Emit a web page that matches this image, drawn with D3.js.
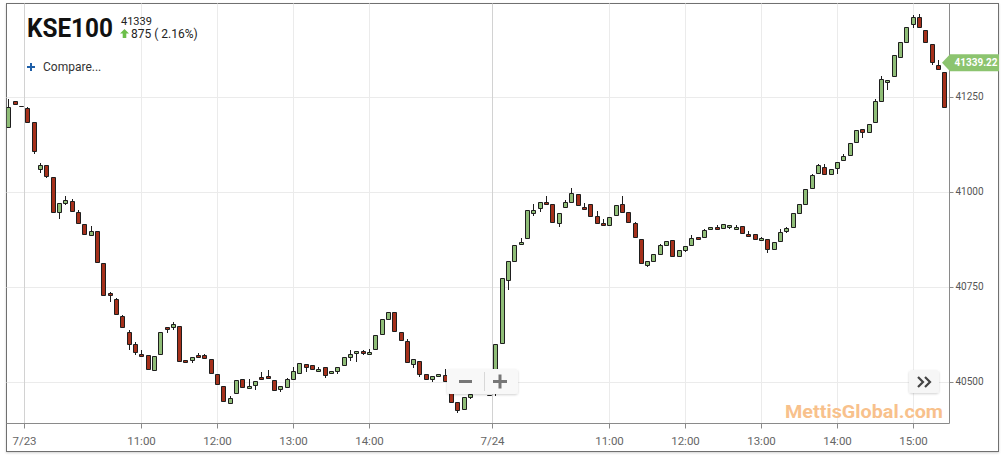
<!DOCTYPE html>
<html><head><meta charset="utf-8">
<script src="https://cdn.jsdelivr.net/npm/d3@7"></script>
<style>
html,body{margin:0;padding:0;background:#fff;}
svg{display:block;font-family:Roboto,"Liberation Sans",sans-serif;}
</style></head><body>
<svg id="c" width="1008" height="461"></svg>
<script>
// ---------- data ----------
const symbol = "KSE100";
const lastText = "41339";
const changeText = "875 ( 2.16%)";
const currentPrice = 41339.22;

const openP = [
41170,41238,41226,41220,41183,41059,41070,41038,40946,40971,
40975,40946,40914,40885,40896,40812,40734,40718,40673,40630,
40598,40573,40569,40532,40572,40643,40645,40646,40556,40558,
40569,40569,40559,40520,40488,40443,40470,40506,40483,40491,
40512,40515,40505,40480,40487,40508,40522,40546,40543,40528,
40538,40522,40528,40543,40566,40575,40581,40573,40587,40626,
40665,40683,40630,40606,40546,40554,40520,40507,40516,40518,
40470,40446,40428,40461,40472,40478,40465,40470,40601,40768,
40818,40862,40877,40945,40958,40973,40968,40917,40959,40974,
40994,40961,40967,40937,40918,40912,40938,40968,40947,40918,
40875,40808,40818,40835,40861,40872,40830,40847,40859,40880,
40880,40902,40907,40904,40906,40901,40909,40889,40888,40872,
40875,40848,40870,40896,40908,40943,40967,41009,41048,41064,
41046,41062,41083,41096,41130,41164,41156,41183,41238,41289,
41304,41354,41393,41442,41459,41425,41388,41333,41314,41220];
const closeP = [
41222,41230,41226,41183,41108,41070,41042,40947,40970,40977,
40948,40917,40888,40897,40816,40727,40727,40677,40643,40598,
40579,40567,40534,40568,40630,40638,40651,40555,40551,40564,
40564,40563,40522,40493,40448,40457,40505,40485,40488,40501,
40506,40509,40478,40489,40507,40529,40548,40540,40534,40534,
40518,40528,40538,40564,40573,40581,40575,40579,40622,40664,
40683,40633,40609,40552,40559,40521,40506,40516,40521,40502,
40446,40425,40460,40467,40478,40470,40465,40599,40772,40818,
40859,40868,40951,40952,40972,40967,40920,40944,40974,40996,
40964,40954,40936,40917,40912,40934,40964,40947,40921,40882,
40812,40817,40835,40859,40870,40830,40846,40856,40877,40875,
40898,40907,40901,40916,40912,40907,40891,40883,40875,40878,
40849,40868,40893,40905,40943,40967,41006,41044,41070,41047,
41059,41079,41095,41127,41162,41158,41178,41240,41296,41294,
41359,41394,41434,41459,41433,41393,41341,41322,41224,41212];
const highP = [
41244,41238,41226,41222,41183,41075,41070,41038,40970,40988,
40981,40952,40914,40910,40896,40812,40737,40720,40676,40636,
40605,40583,40569,40568,40630,40643,40657,40646,40556,40564,
40575,40572,40559,40520,40488,40462,40505,40506,40507,40501,
40525,40531,40505,40489,40511,40538,40548,40546,40543,40540,
40538,40528,40538,40564,40583,40581,40583,40585,40622,40664,
40683,40683,40630,40613,40559,40554,40520,40516,40521,40533,
40470,40446,40460,40467,40482,40478,40465,40599,40772,40818,
40859,40877,40951,40968,40972,40989,40968,40944,40978,41009,
40994,40971,40967,40948,40927,40934,40964,40990,40947,40921,
40875,40817,40835,40862,40870,40872,40846,40856,40885,40880,
40903,40907,40912,40916,40912,40912,40909,40897,40888,40882,
40875,40868,40901,40908,40943,40967,41006,41047,41074,41074,
41059,41079,41100,41127,41162,41164,41178,41243,41304,41294,
41359,41394,41434,41466,41467,41425,41388,41347,41314,41220];
const lowP = [
41170,41230,41226,41183,41103,41053,41040,40947,40932,40968,
40948,40917,40888,40885,40816,40727,40713,40677,40643,40585,
40573,40567,40534,40532,40572,40630,40638,40555,40551,40553,
40564,40563,40522,40493,40448,40443,40470,40485,40483,40482,
40506,40509,40478,40475,40487,40508,40522,40529,40534,40528,
40512,40522,40523,40543,40557,40555,40573,40573,40587,40626,
40665,40633,40609,40552,40538,40514,40506,40503,40516,40502,
40446,40420,40428,40456,40472,40470,40465,40466,40601,40745,
40818,40862,40877,40938,40950,40967,40920,40911,40959,40974,
40964,40954,40936,40917,40912,40912,40938,40947,40921,40882,
40812,40805,40818,40835,40861,40830,40830,40844,40859,40875,
40880,40902,40901,40904,40904,40901,40891,40883,40875,40872,
40842,40848,40870,40893,40908,40943,40967,41009,41048,41047,
41046,41048,41083,41096,41130,41145,41156,41183,41238,41271,
41304,41354,41393,41434,41433,41393,41335,41322,41224,41212];

const xTickPos    = [2.5, 21, 33, 45, 57, 76.5, 95, 107, 119, 131, 143];
const xTickLabels = ["7/23","11:00","12:00","13:00","14:00","7/24","11:00","12:00","13:00","14:00","15:00"];
const xDateTicks  = ["7/23","7/24"];
const yTicks = [40500, 40750, 41000, 41250];

// ---------- layout ----------
const svg = d3.select("#c");
const L = 6.5, R = 949.5, T = 3.5, B = 423.5;
const x = d3.scaleLinear().domain([0, 148]).range([8.4, 944.4]);
const y = d3.scaleLinear().domain([40500, 41250]).range([381.7, 96.7]);

const defs = svg.append("defs");
defs.append("clipPath").attr("id","plot").append("rect")
  .attr("x", L).attr("y", T).attr("width", R - L).attr("height", B - T);
const f = defs.append("filter").attr("id","sh").attr("x","-20%").attr("y","-20%").attr("width","140%").attr("height","160%");
f.append("feDropShadow").attr("dx",0).attr("dy",1).attr("stdDeviation",1.2).attr("flood-color","#000").attr("flood-opacity",0.18);

svg.append("rect").attr("width",1008).attr("height",461).attr("fill","#fff");

// outer frame with soft shadow
svg.append("rect").attr("x",6.5).attr("y",3.5).attr("width",992).attr("height",448)
  .attr("fill","#fff").attr("stroke","#6f6f6f").attr("stroke-width",1).attr("filter","url(#sh)");

// grid
const grid = svg.append("g");
grid.selectAll("line.h").data(yTicks).join("line")
  .attr("x1", L).attr("x2", R)
  .attr("y1", d => Math.round(y(d)) + 0.5).attr("y2", d => Math.round(y(d)) + 0.5)
  .attr("stroke", "#ebebeb");
grid.selectAll("line.v").data(xTickPos).join("line")
  .attr("x1", d => Math.round(x(d)) + 0.5).attr("x2", d => Math.round(x(d)) + 0.5)
  .attr("y1", T).attr("y2", B)
  .attr("stroke", (d,i) => xDateTicks.includes(xTickLabels[i]) ? "#d2d2d2" : "#ebebeb");

// watermark
svg.append("text").attr("x", 785).attr("y", 418)
  .attr("font-size", 18.5).attr("font-weight", "bold")
  .attr("fill", "#f8c18c")
  .attr("textLength", 158).attr("lengthAdjust", "spacingAndGlyphs")
  .text("MettisGlobal.com");

// candles
const idx = d3.range(openP.length);
const cg = svg.append("g").attr("clip-path", "url(#plot)");
const cx = i => Math.round(x(i)) + 0.5;
cg.selectAll("line.w").data(idx).join("line")
  .attr("x1", cx).attr("x2", cx)
  .attr("y1", i => Math.round(y(highP[i]))).attr("y2", i => Math.round(y(lowP[i])) + 1)
  .attr("stroke", "#1e1e1e").attr("stroke-width", 1);
cg.selectAll("path.b").data(idx).join("path")
  .attr("d", i => {
    const yt = Math.round(y(Math.max(openP[i], closeP[i]))) + 0.5;
    const yb = Math.round(y(Math.min(openP[i], closeP[i]))) + 0.5;
    const c = cx(i);
    return `M${c-2},${yt}H${c+2}V${yb}H${c-2}Z`;
  })
  .attr("fill", i => closeP[i] >= openP[i] ? "#8fbd77" : "#a5301b")
  .attr("stroke", "#1e1e1e").attr("stroke-width", 1);

// axes lines
svg.append("line").attr("x1", L).attr("x2", R).attr("y1", B).attr("y2", B).attr("stroke", "#8a8a8a");
svg.append("line").attr("x1", R).attr("x2", R).attr("y1", T).attr("y2", B).attr("stroke", "#8a8a8a");

// x axis ticks and labels
const xa = svg.append("g");
xa.selectAll("line").data(xTickPos).join("line")
  .attr("x1", d => Math.round(x(d)) + 0.5).attr("x2", d => Math.round(x(d)) + 0.5)
  .attr("y1", B).attr("y2", B + 5).attr("stroke", "#8a8a8a");
xa.selectAll("text").data(xTickPos).join("text")
  .attr("x", d => Math.round(x(d)) + 0.5).attr("y", 445)
  .attr("text-anchor", "middle").attr("font-size", 11.5).attr("fill", "#666")
  .text((d,i) => xTickLabels[i]);

// y axis ticks and labels
const ya = svg.append("g");
ya.selectAll("line").data(yTicks).join("line")
  .attr("x1", R).attr("x2", R + 4)
  .attr("y1", d => Math.round(y(d)) + 0.5).attr("y2", d => Math.round(y(d)) + 0.5)
  .attr("stroke", "#8a8a8a");
ya.selectAll("text").data(yTicks).join("text")
  .attr("x", 955.5).attr("y", d => y(d) + 3.5)
  .attr("font-size", 10).attr("fill", "#555")
  .text(d => d);

// current price pill
const py = y(currentPrice);
svg.append("path")
  .attr("d", `M942,${py} L950,${py-8.5} H999 V${py+8.5} H950 Z`)
  .attr("fill", "#8cc46f");
svg.append("text").attr("x", 976).attr("y", py + 3.6)
  .attr("text-anchor", "middle").attr("font-size", 10).attr("font-weight", "bold")
  .attr("fill", "#fff").text(currentPrice.toFixed(2));

// zoom buttons
svg.append("rect").attr("x", 447).attr("y", 369).attr("width", 71).attr("height", 25).attr("rx", 3)
  .attr("fill", "#f8f8f8").attr("filter", "url(#sh)");
svg.append("line").attr("x1", 459).attr("x2", 472).attr("y1", 381.5).attr("y2", 381.5).attr("stroke", "#777").attr("stroke-width", 3);
svg.append("line").attr("x1", 484.5).attr("x2", 484.5).attr("y1", 372).attr("y2", 391).attr("stroke", "#d8d8d8");
svg.append("line").attr("x1", 493).attr("x2", 507).attr("y1", 381.5).attr("y2", 381.5).attr("stroke", "#777").attr("stroke-width", 3);
svg.append("line").attr("x1", 500).attr("x2", 500).attr("y1", 374.5).attr("y2", 388.5).attr("stroke", "#777").attr("stroke-width", 3);

// home button
svg.append("rect").attr("x", 909).attr("y", 370).attr("width", 30).attr("height", 23).attr("rx", 3)
  .attr("fill", "#f6f6f6").attr("filter", "url(#sh)");
svg.append("path").attr("d", "M918,377 L923,382 L918,387 M925,377 L930,382 L925,387")
  .attr("fill", "none").attr("stroke", "#444").attr("stroke-width", 2.2);

// header
svg.append("text").attr("x", 27).attr("y", 37).attr("font-size", 26).attr("font-weight", "bold")
  .attr("fill", "#111").attr("textLength", 86).attr("lengthAdjust", "spacingAndGlyphs").text(symbol);
svg.append("text").attr("x", 121).attr("y", 25).attr("font-size", 11).attr("fill", "#222").text(lastText);
svg.append("path").attr("d", "M124.5,29 L129,33.5 L126.3,33.5 L126.3,38 L122.7,38 L122.7,33.5 L120,33.5 Z")
  .attr("fill", "#6cbf4a");
svg.append("text").attr("x", 131).attr("y", 38).attr("font-size", 12).attr("fill", "#222").text(changeText);

svg.append("path").attr("d", "M27,67 H35 M31,63 V71").attr("stroke", "#1f5fa8").attr("stroke-width", 2);
svg.append("text").attr("x", 43).attr("y", 71).attr("font-size", 12).attr("fill", "#333").text("Compare...");
</script>
</body></html>
